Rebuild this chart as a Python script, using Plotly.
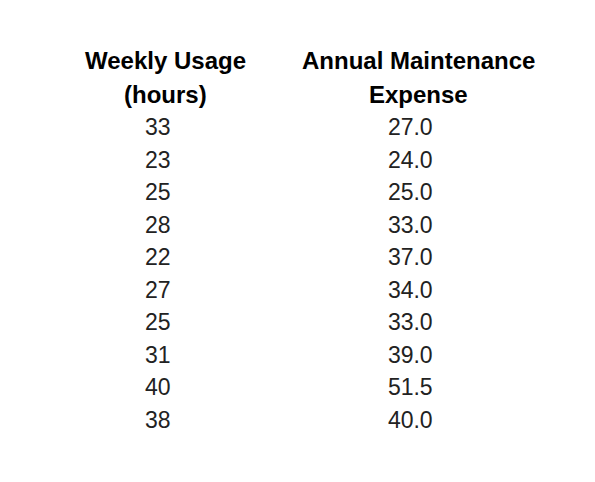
import plotly.graph_objects as go

header_lines = [["Weekly Usage", "(hours)"], ["Annual Maintenance", "Expense"]]
usage = [33, 23, 25, 28, 22, 27, 25, 31, 40, 38]
expense = [27.0, 24.0, 25.0, 33.0, 37.0, 34.0, 33.0, 39.0, 51.5, 40.0]

fig = go.Figure(go.Table(
    columnwidth=[194, 312],
    header=dict(values=["", ""], height=1, fill_color="white", line_color="white"),
    cells=dict(values=[usage, ["%.1f" % v for v in expense]], align="center",
               height=32.5, fill_color="white", line_color="white",
               font=dict(family="Liberation Sans, Arial", size=23, color="#222")),
    domain=dict(x=[0.089, 0.939], y=[0, 0.79]),
))
col_x = [157 / 595, 410 / 595]
line_y = [1 - 52 / 482, 1 - 86 / 482]
for cx, lines in zip(col_x, header_lines):
    for ly, txt in zip(line_y, lines):
        fig.add_annotation(x=cx, y=ly, xref="paper", yref="paper", showarrow=False,
                           text="<b>%s</b>" % txt, xanchor="center", yanchor="middle",
                           font=dict(family="Liberation Sans, Arial", size=24, color="black"))
fig.update_layout(width=595, height=482, margin=dict(l=0, r=0, t=0, b=0),
                  paper_bgcolor="white")
fig.write_html("out.html")
